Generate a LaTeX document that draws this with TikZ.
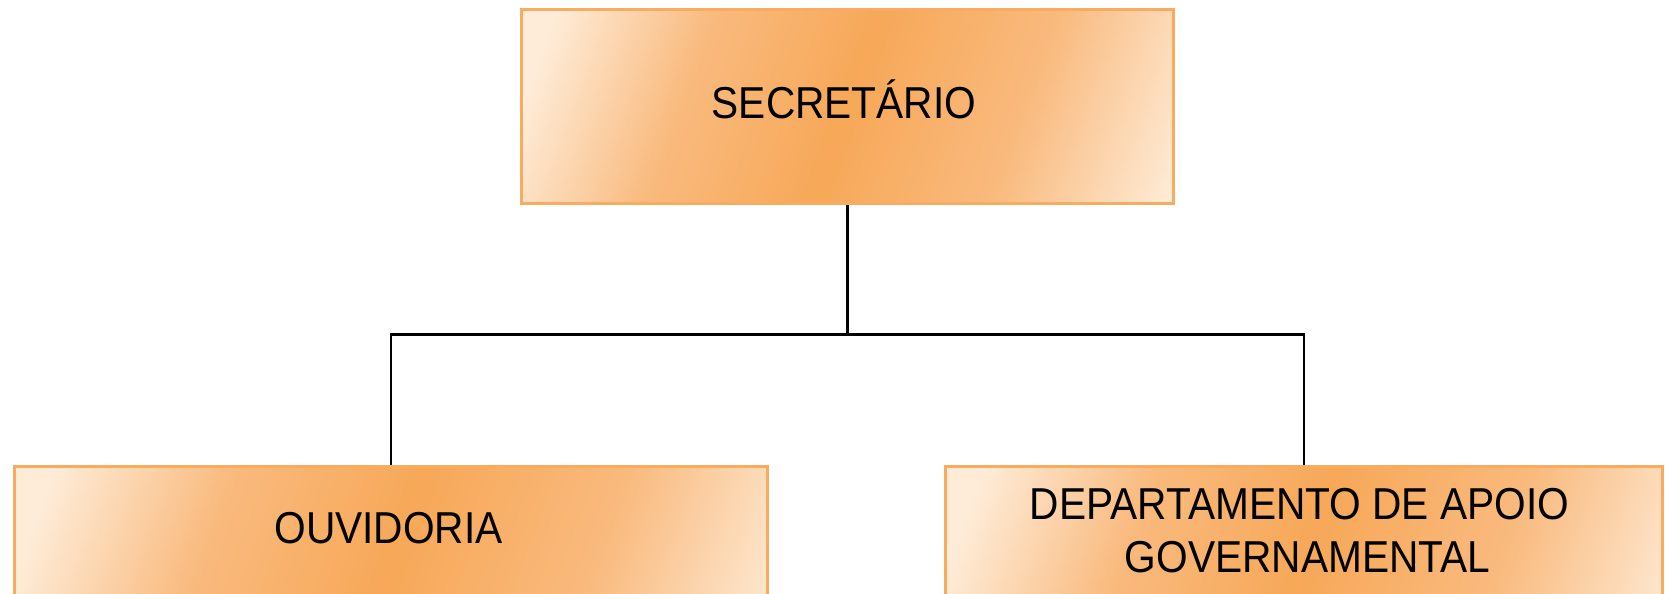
\documentclass[tikz,border=0pt]{standalone}
\usepackage{fontspec}
\setmainfont{Liberation Sans}
\newfontfamily\boxfont[FakeStretch=0.91]{Liberation Sans}
\usetikzlibrary{backgrounds}
\definecolor{lightor}{RGB}{254,236,216}
\definecolor{midor}{RGB}{249,186,126}
\definecolor{darkor}{RGB}{247,168,88}
\definecolor{borderor}{RGB}{249,172,96}
\pgfdeclarehorizontalshading{boxshade}{100bp}{color(0bp)=(lightor); color(21bp)=(lightor); color(35bp)=(midor); color(50bp)=(darkor); color(66bp)=(midor); color(82bp)=(lightor); color(100bp)=(lightor)}
\tikzset{
  orgbox/.style={rectangle, draw=borderor, line width=3pt, shading=boxshade, shading angle=-20, inner sep=0pt, outer sep=0pt},
  boxtext/.style={anchor=base, inner sep=0pt, font=\boxfont\fontsize{44.7}{53}\selectfont, text=black},
  conn/.style={draw=black, line width=2.5pt}
}
\begin{document}
\begin{tikzpicture}[x=1pt,y=1pt]
\useasboundingbox (0,0) rectangle (1665,594);
\begin{scope}
\clip (0,0) rectangle (1665,594);
\node[orgbox, minimum width=651.5pt, minimum height=193.5pt] (sec) at (847.25,487.25) {};
\node[orgbox, minimum width=753.3pt, minimum height=197.5pt] (ouv) at (390.85,28.75) {};
\node[orgbox, minimum width=716.5pt, minimum height=197.5pt] (dep) at (1303.75,28.75) {};
\end{scope}
\node[boxtext] (sect) at (844,475) {SECRETÁRIO};
\node[boxtext] (ouvt) at (388.5,50) {OUVIDORIA};
\node[boxtext] (dept1) at (1299.5,74) {DEPARTAMENTO DE APOIO};
\node[boxtext] (dept2) at (1307.5,21) {GOVERNAMENTAL};
\coordinate (bus) at (847.25,259.5);
\begin{scope}[on background layer]
\draw[conn] (sec.south) -- (bus);
\draw[conn] (ouv.north) |- (bus) -| (dep.north);
\end{scope}
\end{tikzpicture}
\end{document}
